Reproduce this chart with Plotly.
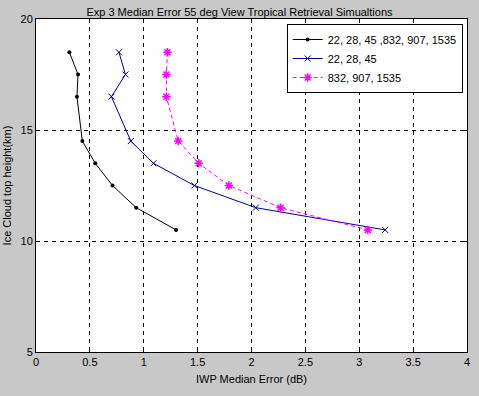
import plotly.graph_objects as go

heights = [18.5, 17.5, 16.5, 14.5, 13.5, 12.5, 11.5, 10.5]
err_all = [0.31, 0.39, 0.38, 0.43, 0.55, 0.71, 0.93, 1.30]
err_low = [0.77, 0.83, 0.70, 0.88, 1.09, 1.47, 2.04, 3.24]
err_high = [1.22, 1.21, 1.21, 1.32, 1.51, 1.79, 2.27, 3.08]
names = ["22, 28, 45 ,832, 907, 1535", "22, 28, 45", "832, 907, 1535"]
xticks = [0, 0.5, 1, 1.5, 2, 2.5, 3, 3.5, 4]
xticklabels = ["0", "0.5", "1", "1.5", "2", "2.5", "3", "3.5", "4"]
yticks = [5, 10, 15, 20]

font = dict(family="Liberation Sans, Arial, sans-serif", size=11, color="black")

fig = go.Figure()
fig.add_trace(go.Scatter(x=err_all, y=heights, name=names[0], mode="lines+markers",
                         line=dict(color="black", width=1),
                         marker=dict(symbol="circle", size=4, color="black")))
fig.add_trace(go.Scatter(x=err_low, y=heights, name=names[1], mode="lines+markers",
                         line=dict(color="#00008f", width=1),
                         marker=dict(symbol="x-thin-open", size=6, line=dict(color="#00008f", width=1))))
fig.add_trace(go.Scatter(x=err_high, y=heights, name=names[2], mode="lines+markers",
                         line=dict(color="#ff00ff", width=1, dash="4px,3px"),
                         marker=dict(symbol="asterisk-open", size=7, line=dict(color="#ff00ff", width=1.5))))

axis_common = dict(showline=True, linecolor="black", linewidth=1, mirror="ticks",
                   ticks="inside", ticklen=4, tickcolor="black",
                   showgrid=True, gridcolor="black", griddash="4px,4px", gridwidth=1,
                   zeroline=False, tickfont=font, automargin=False,
                   ticklabeloverflow="allow")

fig.update_xaxes(range=[0, 4], tickvals=xticks, ticktext=xticklabels,
                 title=dict(text="IWP Median Error (dB)", font=font, standoff=8),
                 **axis_common)
fig.update_yaxes(range=[5, 20], tickvals=yticks,
                 title=dict(text="Ice Cloud top height(km)", font=font, standoff=6),
                 **axis_common)

fig.update_layout(
    width=479, height=396,
    paper_bgcolor="#c8c8c8", plot_bgcolor="white",
    margin=dict(l=36, r=12, t=19, b=44),
    font=font,
    title=dict(text="Exp 3 Median Error 55 deg View Tropical Retrieval Simualtions",
               x=0.5, xanchor="center", y=0.978, yanchor="top", font=dict(size=11, family=font["family"], color="black")),
    legend=dict(x=0.99, y=0.985, xanchor="right", yanchor="top", bgcolor="white",
                bordercolor="black", borderwidth=1, font=dict(size=11, family=font["family"]),
                tracegroupgap=0, itemwidth=30),
    showlegend=True,
)

fig.write_html("out.html", config={"displayModeBar": False},
               post_script="document.body.style.margin='0';")
